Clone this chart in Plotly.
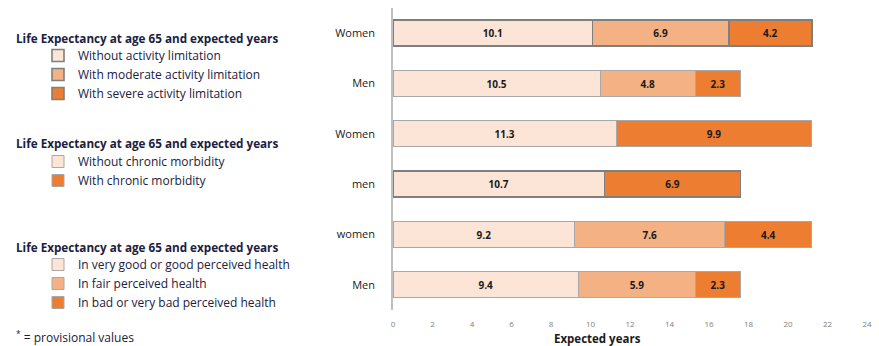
import plotly.graph_objects as go

# Expected years after 65, split by health status
sexes_activity = ["Women", "Men"]
without_activity_limitation = [10.1, 10.5]
moderate_activity_limitation = [6.9, 4.8]
severe_activity_limitation = [4.2, 2.3]

sexes_chronic = ["Women", "men"]
without_chronic_morbidity = [11.3, 10.7]
with_chronic_morbidity = [9.9, 6.9]

sexes_perceived = ["women", "Men"]
good_perceived_health = [9.2, 9.4]
fair_perceived_health = [7.6, 5.9]
bad_perceived_health = [4.4, 2.3]

x_ticks = list(range(0, 25, 2))
group_title = "Life Expectancy at age 65 and expected years"

LIGHT = "#FCE4D6"
MID = "#F4B183"
DARK = "#ED7D31"
TEXT = "#1b2140"
FONT = "Open Sans"

W, H = 879, 346
L, R, T, B = 393, 12, 8, 36
PLOT_W = W - L - R
PLOT_H = H - T - B


def px_x(px):
    return (px - L) / PLOT_W


def px_y(py):
    return (H - B - py) / PLOT_H


fig = go.Figure()

# row positions, top to bottom
rows_activity = [0, 1]
rows_chronic = [2, 3]
rows_perceived = [4, 5]
tick_text = sexes_activity + sexes_chronic + sexes_perceived


def add_segment(values, rows, name, color, legend, outline_rows=()):
    widths = [1.6 if r in outline_rows else 1.0 for r in rows]
    lcolors = ["#7f7f7f" if r in outline_rows else "#a8a8a8" for r in rows]
    fig.add_trace(go.Bar(
        x=values, y=rows, orientation="h", name=name,
        marker=dict(color=color, line=dict(color=lcolors, width=widths)),
        text=[f"<b>{v:.1f}</b>" for v in values], textposition="inside",
        insidetextanchor="middle",
        textfont=dict(family=FONT, size=10, color="#1a1a1a"),
        width=0.52, legend=legend,
    ))


add_segment(without_activity_limitation, rows_activity, "Without activity limitation", LIGHT, "legend", (0,))
add_segment(moderate_activity_limitation, rows_activity, "With moderate activity limitation", MID, "legend", (0,))
add_segment(severe_activity_limitation, rows_activity, "With severe activity limitation", DARK, "legend", (0,))

add_segment(without_chronic_morbidity, rows_chronic, "Without chronic morbidity", LIGHT, "legend2", (3,))
add_segment(with_chronic_morbidity, rows_chronic, "With chronic morbidity", DARK, "legend2", (3,))

add_segment(good_perceived_health, rows_perceived, "In very good or good perceived health", LIGHT, "legend3")
add_segment(fair_perceived_health, rows_perceived, "In fair perceived health", MID, "legend3")
add_segment(bad_perceived_health, rows_perceived, "In bad or very bad perceived health", DARK, "legend3")

legend_style = dict(
    xanchor="left", yanchor="top", bgcolor="rgba(0,0,0,0)",
    font=dict(family=FONT, size=12, color=TEXT),
    traceorder="normal", itemclick=False, itemdoubleclick=False,
)

fig.update_layout(
    width=W, height=H,
    margin=dict(l=L, r=R, t=T, b=B, pad=0),
    paper_bgcolor="white", plot_bgcolor="white",
    barmode="stack",
    showlegend=True,
    legend=dict(x=px_x(38), y=px_y(41), **legend_style),
    legend2=dict(x=px_x(38), y=px_y(147), **legend_style),
    legend3=dict(x=px_x(38), y=px_y(250), **legend_style),
    xaxis=dict(
        range=[0, 24], tickvals=x_ticks, showgrid=False, zeroline=False,
        showline=False, ticks="", ticklabelstandoff=8,
        tickfont=dict(family=FONT, size=8, color="#808080"),
    ),
    yaxis=dict(
        range=[5.5, -0.5], tickvals=rows_activity + rows_chronic + rows_perceived,
        ticktext=tick_text, showgrid=False, zeroline=False,
        showline=True, linecolor="#bfbfbf", linewidth=1.5,
        ticks="", ticklabelstandoff=14,
        tickfont=dict(family=FONT, size=11, color="#1a1a1a"),
    ),
    font=dict(family=FONT),
)

# group headings above each legend
for py in (38, 143, 247):
    fig.add_annotation(
        x=px_x(14), y=px_y(py), xref="paper", yref="paper",
        text=f"<b>{group_title}</b>", showarrow=False,
        xanchor="left", yanchor="middle",
        font=dict(family=FONT, size=11.7, color=TEXT),
    )

fig.add_annotation(
    x=px_x(14), y=px_y(337), xref="paper", yref="paper",
    text="<sup>*</sup> = provisional values", showarrow=False,
    xanchor="left", yanchor="middle",
    font=dict(family=FONT, size=12, color=TEXT),
)

fig.add_annotation(
    x=px_x(597), y=px_y(338), xref="paper", yref="paper",
    text="<b>Expected years</b>", showarrow=False,
    xanchor="center", yanchor="middle",
    font=dict(family=FONT, size=11.5, color="#1a1a1a"),
)

fig.write_html("out.html")
